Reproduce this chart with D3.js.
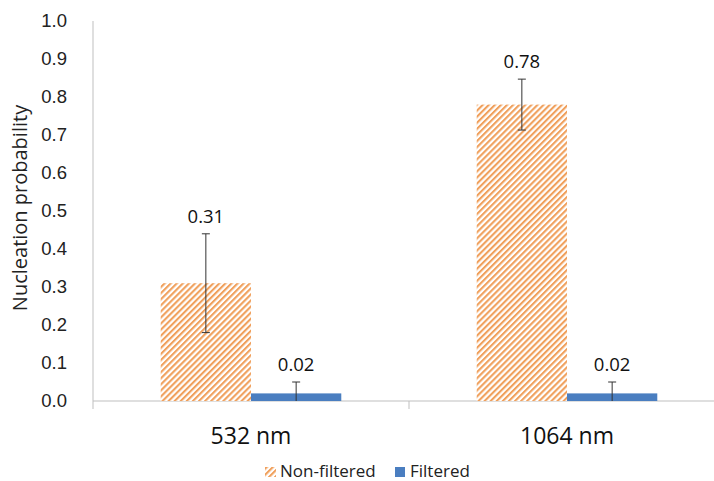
<!DOCTYPE html>
<html>
<head>
<meta charset="utf-8">
<script src="https://cdn.jsdelivr.net/npm/d3@7"></script>
<style>
  html, body { margin: 0; padding: 0; background: #fff; }
  svg { display: block; font-family: "Open Sans", "Noto Sans", sans-serif; }
</style>
</head>
<body>
<svg id="chart" width="714" height="481"></svg>
<script>
// Wavelength groups and the two series
const categories = ["532 nm", "1064 nm"];
const seriesNames = ["Non-filtered", "Filtered"];
const nonFiltered = [0.31, 0.78];
const nonFilteredErr = [0.13, 0.067];
const filtered = [0.02, 0.02];
const filteredErr = [0.03, 0.03];
const yTicks = [0.0, 0.1, 0.2, 0.3, 0.4, 0.5, 0.6, 0.7, 0.8, 0.9, 1.0];

const svg = d3.select("#chart");
const plotLeft = 93, plotTop = 21, plotBottom = 401, plotRight = 725;
const orange = "#F0A05C", blue = "#4A7EC0";

// Hatched fill for the non-filtered bars
const defs = svg.append("defs");
const pat = defs.append("pattern")
  .attr("id", "hatch")
  .attr("patternUnits", "userSpaceOnUse")
  .attr("width", 4.3).attr("height", 4.3)
  .attr("patternTransform", "rotate(45)");
pat.append("rect").attr("width", 4.3).attr("height", 4.3).attr("fill", "#fff");
pat.append("rect").attr("x", 0).attr("width", 2.1).attr("height", 4.3).attr("fill", orange);

const x0 = d3.scaleBand().domain(categories).range([plotLeft, plotRight]).paddingInner(0).paddingOuter(0);
const groupWidth = x0.bandwidth() * (2 / 3.5);
const x1 = d3.scaleBand().domain(seriesNames).range([0, groupWidth]);
const y = d3.scaleLinear().domain([0, 1]).range([plotBottom, plotTop]);

const rows = categories.map((c, i) => ({
  cat: c,
  bars: [
    { s: seriesNames[0], v: nonFiltered[i], e: nonFilteredErr[i], fill: "url(#hatch)" },
    { s: seriesNames[1], v: filtered[i], e: filteredErr[i], fill: blue }
  ]
}));

// Y axis
const yAxis = d3.axisLeft(y).tickValues(yTicks).tickFormat(d3.format(".1f")).tickSize(0).tickPadding(26);
const gy = svg.append("g").attr("transform", `translate(${plotLeft},0)`).call(yAxis);
gy.select(".domain").attr("stroke", "#bfbfbf").attr("d", `M0,${plotTop}V${plotBottom + 8}`);
gy.selectAll("text").attr("font-size", 18.5).attr("fill", "#222");

// X axis
const xAxis = d3.axisBottom(x0).tickSize(0).tickPadding(0).tickFormat(() => "");
const gx = svg.append("g").attr("transform", `translate(0,${plotBottom})`).call(xAxis);
gx.select(".domain").attr("stroke", "#bfbfbf").attr("d", `M${plotLeft},0H${plotRight}`);
gx.selectAll(".tick").remove();
gx.selectAll("line.sep").data(categories.slice(1)).join("line")
  .attr("class", "sep")
  .attr("x1", d => x0(d)).attr("x2", d => x0(d))
  .attr("y1", 0).attr("y2", 8).attr("stroke", "#bfbfbf");

svg.append("g").selectAll("text").data(categories).join("text")
  .attr("x", d => x0(d) + x0.bandwidth() / 2)
  .attr("y", 444)
  .attr("text-anchor", "middle")
  .attr("font-size", 23)
  .attr("fill", "#111")
  .text(d => d);

// Y title
svg.append("text")
  .attr("transform", `translate(27,208) rotate(-90)`)
  .attr("text-anchor", "middle")
  .attr("font-size", 20)
  .attr("fill", "#222")
  .text("Nucleation probability");

// Bars
const groups = svg.append("g").selectAll("g").data(rows).join("g")
  .attr("transform", d => `translate(${x0(d.cat) + (x0.bandwidth() - groupWidth) / 2},0)`);

groups.selectAll("rect").data(d => d.bars).join("rect")
  .attr("x", d => x1(d.s))
  .attr("y", d => y(d.v))
  .attr("width", x1.bandwidth())
  .attr("height", d => y(0) - y(d.v))
  .attr("fill", d => d.fill);

// Error bars (lower whisker clipped at the axis)
const eb = groups.selectAll("g.err").data(d => d.bars).join("g").attr("class", "err")
  .attr("transform", d => `translate(${x1(d.s) + x1.bandwidth() / 2},0)`);
eb.append("line")
  .attr("y1", d => y(d.v + d.e)).attr("y2", d => y(Math.max(0, d.v - d.e)))
  .attr("stroke", "#333").attr("stroke-width", 1);
eb.append("line")
  .attr("x1", -4).attr("x2", 4)
  .attr("y1", d => y(d.v + d.e)).attr("y2", d => y(d.v + d.e))
  .attr("stroke", "#333");
eb.filter(d => d.v - d.e > 0).append("line")
  .attr("x1", -4).attr("x2", 4)
  .attr("y1", d => y(d.v - d.e)).attr("y2", d => y(d.v - d.e))
  .attr("stroke", "#333");

// Value labels above the error bars
eb.append("text")
  .attr("y", d => y(d.v + d.e) - 11)
  .attr("text-anchor", "middle")
  .attr("font-size", 18.5)
  .attr("fill", "#111")
  .text(d => d3.format(".2f")(d.v));

// Legend
const legend = svg.append("g").attr("transform", "translate(0,477)");
legend.append("rect").attr("x", 265).attr("y", -10).attr("width", 11).attr("height", 10).attr("fill", "url(#hatch)");
legend.append("text").attr("x", 280).attr("y", 0).attr("font-size", 17).attr("fill", "#222").text(seriesNames[0]);
legend.append("rect").attr("x", 395).attr("y", -10).attr("width", 10).attr("height", 10).attr("fill", blue);
legend.append("text").attr("x", 410).attr("y", 0).attr("font-size", 17).attr("fill", "#222").text(seriesNames[1]);
</script>
</body>
</html>
